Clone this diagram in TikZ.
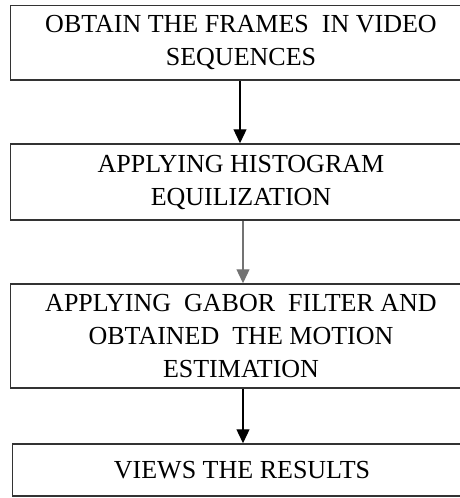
\documentclass[tikz,border=0pt]{standalone}
\usepackage{fontspec}
\setmainfont{Liberation Serif}
\usepackage{tikz}
\usetikzlibrary{arrows.meta}

\begin{document}
\begin{tikzpicture}[x=1pt,y=-1pt,
	stepbox/.style={draw=black!80, line width=1.5pt, inner sep=0pt, minimum width=461pt, align=center, font=\fontsize{26}{33}\selectfont},
	flow/.style={line width=1.3pt, -{Triangle[length=14pt,width=13pt]}}]
	
	\useasboundingbox (0,0) rectangle (459,498);
	
	\node[stepbox, minimum height=74.5pt] (frames) at (241,42.75) {OBTAIN THE FRAMES\ \ IN VIDEO\\SEQUENCES};
	\node[stepbox, minimum height=76pt] (histeq) at (241,182) {APPLYING HISTOGRAM\\EQUILIZATION};
	\node[stepbox, minimum height=104pt] (gabor) at (241,336) {APPLYING\ \ GABOR\ \ FILTER AND\\OBTAINED\ \ THE MOTION\\ESTIMATION};
	\node[stepbox, minimum height=52pt, minimum width=459pt] (results) at (242,470) {VIEWS THE RESULTS};
	
	\draw[flow] ([xshift=-1pt]frames.south) -- ([xshift=-1pt]histeq.north);
	\draw[flow, draw=black!55] ([xshift=2pt]histeq.south) -- ([xshift=2pt]gabor.north);
	\draw[flow] ([xshift=2pt]gabor.south) -- ([xshift=1pt]results.north);
	
\end{tikzpicture}
\end{document}
